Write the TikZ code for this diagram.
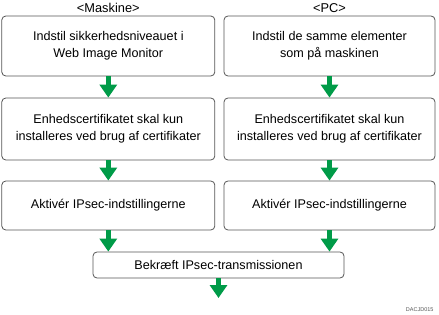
\documentclass[tikz,border=0pt]{standalone}
\usepackage{fontspec}
\setmainfont{Liberation Sans}
\usepackage{tikz}
\usetikzlibrary{positioning}
\usetikzlibrary{arrows.meta}
\definecolor{stepgreen}{RGB}{0,155,72}
\definecolor{boxgray}{RGB}{85,85,85}

\begin{document}
\begin{tikzpicture}[x=1pt, y=-1pt,
  box/.style={rectangle, rounded corners=4pt, draw=boxgray, line width=0.8pt, align=center, inner sep=0pt, font=\fontsize{12.6}{17}\selectfont},
  head/.style={font=\fontsize{12.8}{13}\selectfont},
  arrow/.style={-{Triangle[width=17pt, length=13pt]}, line width=5pt, draw=stepgreen}
]
\useasboundingbox (0,0) rectangle (439,315);

% Column headers
\node[head] (mhead) at (108.3,8) {<Maskine>};
\node[head] (phead) at (329.5,8) {<PC>};

% Machine side
\node[box, minimum width=213pt, minimum height=60pt] (m1) at (108.3,46)    {Indstil sikkerhedsniveauet i\\Web Image Monitor};
\node[box, minimum width=213pt, minimum height=62pt] (m2) at (108.3,129)   {Enhedscertifikatet skal kun\\installeres ved brug af certifikater};
\node[box, minimum width=213pt, minimum height=49pt] (m3) at (108.3,205.5) {Aktivér IPsec-indstillingerne};

% PC side
\node[box, minimum width=211pt, minimum height=60pt] (p1) at (329.5,46)    {Indstil de samme elementer\\som på maskinen};
\node[box, minimum width=211pt, minimum height=62pt] (p2) at (329.5,129)   {Enhedscertifikatet skal kun\\installeres ved brug af certifikater};
\node[box, minimum width=211pt, minimum height=49pt] (p3) at (329.5,205.5) {Aktivér IPsec-indstillingerne};

% Common step
\node[box, minimum width=251pt, minimum height=26pt] (fin) at (218.5,265) {Bekræft IPsec-transmissionen};
\coordinate (out) at (218.5,298);

% Arrows
\draw[arrow] (m1) -- (m2);
\draw[arrow] (m2) -- (m3);
\draw[arrow] (p1) -- (p2);
\draw[arrow] (p2) -- (p3);
\draw[arrow] (m3.south) -- (m3.south |- fin.north);
\draw[arrow] (p3.south) -- (p3.south |- fin.north);
\draw[arrow] (fin.south) -- (out);

% Figure code
\node[font=\fontsize{5.5}{6}\selectfont, text=boxgray, anchor=east] (code) at (437,310) {DACJD015};
\end{tikzpicture}
\end{document}
